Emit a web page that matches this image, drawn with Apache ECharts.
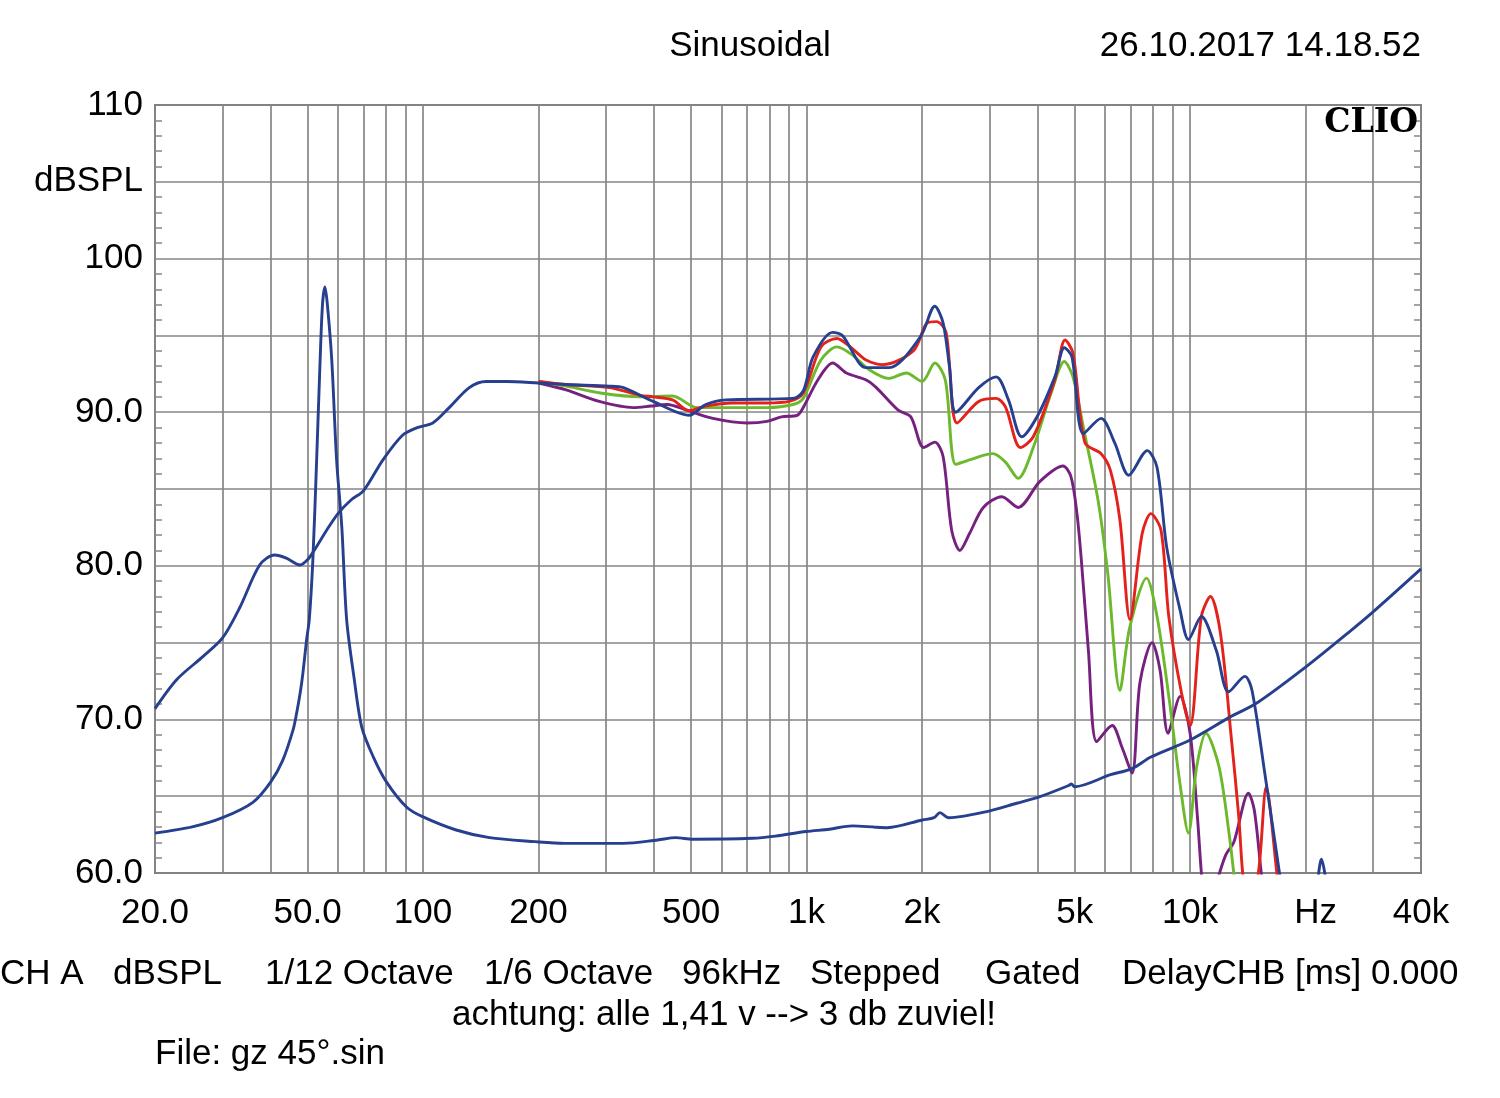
<!DOCTYPE html>
<html>
<head>
<meta charset="utf-8">
<script src="https://cdn.jsdelivr.net/npm/echarts@6/dist/echarts.min.js"></script>
<style>
html,body{margin:0;padding:0;background:#fff;}
#chart{width:1500px;height:1098px;}
</style>
</head>
<body>
<div id="chart"></div>
<script>
// ---------------- DATA ----------------
// Frequencies in Hz, levels in dBSPL
const gridFreqs = [20,30,40,50,60,70,80,90,100,200,300,400,500,600,700,800,900,1000,2000,3000,4000,5000,6000,7000,8000,9000,10000,20000,30000,40000];
const xLabelFreqs = [20,50,100,200,500,1000,2000,5000,10000,20000,40000];
const xLabelTexts = ['20.0','50.0','100','200','500','1k','2k','5k','10k','Hz','40k'];
const yLabelMap = {110:'110',105:'dBSPL',100:'100',90:'90.0',80:'80.0',70:'70.0',60:'60.0'};

// Blue curve, full range (0°)
const blueFreq = [20,22.8,26.7,30,33.3,37.5,41,44,47.8,50,52,56,60,65,70,78.6,88.4,96.6,106,117,132,146,165,200,236,306,333,398,494,546,617,924,981,1040,1170,1240,1430,1640,1980,2160,2270,2360,2450,2810,3120,3360,3640,3990,4440,4700,4920,5270,5860,6360,6920,7730,8200,8690,9420,9900,10700,11700,12600,13900,14500,15700,17100,18000,20500,21500,22000,22600,24000];
const blueVals = [70.7,72.6,74.1,75.3,77.3,80.05,80.7,80.5,80.05,80.4,81.0,82.3,83.4,84.3,84.9,86.9,88.5,89.0,89.3,90.3,91.6,92.0,92.0,91.9,91.8,91.7,91.6,90.7,89.8,90.5,90.8,90.9,91.4,93.6,95.2,95.0,92.9,92.9,94.9,96.9,95.8,92.9,90.0,91.6,92.3,90.8,88.4,89.7,92.3,94.2,93.6,88.6,89.6,88.0,85.9,87.5,86.4,81.2,77.1,75.2,76.7,74.5,71.8,72.8,71.9,66.3,60.0,56,56,59.5,60.9,59.5,54];

// Blue resonance / rising curve
const resFreq = [20,25,30,36,40,43,45.8,46.8,47.8,48.6,49.7,50.5,51.6,52.8,53.9,54.7,55.5,56.3,57.8,59.5,61.4,63.2,66,69.2,74.2,80.4,90.5,100,122,149,196,234,333,409,456,505,722,829,997,1146,1316,1513,1623,2004,2150,2227,2347,2955,3530,4060,4830,4900,5000,6200,7060,7900,10000,12600,15000,20000,26300,30000,40000];
const resVals = [62.6,63.0,63.6,64.6,65.9,67.3,69.3,70.4,71.7,73.0,75.2,76.5,80.4,87.0,93.4,97.1,98.15,97.0,93.4,86.9,82.5,76.5,72.8,69.5,67.55,65.9,64.3,63.65,62.8,62.3,62.04,61.93,61.93,62.15,62.3,62.2,62.26,62.4,62.7,62.85,63.07,62.98,62.95,63.45,63.6,63.93,63.6,64.0,64.54,64.97,65.7,65.8,65.62,66.4,66.8,67.55,68.66,70.1,71.1,73.4,75.8,77.0,79.8];

// Red curve
const redFreq = [200,236,306,368,398,447,494,546,641,788,900,980,1090,1200,1300,1430,1580,1900,2060,2180,2310,2470,2810,3120,3300,3610,3900,4440,4720,4950,5320,5860,6200,6560,6970,7500,7900,8400,8800,9500,10000,10700,11300,12000,12800,13400,13700,14200,15100,15800,16800,17500];
const redVals = [92.0,91.8,91.6,91.1,91.0,90.8,90.1,90.4,90.6,90.6,90.7,91.25,94.25,94.8,94.25,93.4,93.1,94.0,95.8,95.9,95.2,89.3,90.7,90.9,90.35,87.7,88.4,92.1,94.7,93.85,88.0,87.3,86.2,83.0,76.5,82.1,83.4,82.3,76.7,71.7,69.6,76.7,78.0,75.6,68.85,63.6,60.1,57,60.2,65.6,60.2,56];

// Green curve
const greenFreq = [200,236,290,368,447,518,570,788,922,980,1090,1200,1320,1460,1640,1820,2000,2160,2300,2450,2660,3060,3300,3560,3900,4340,4700,4950,5270,5760,6100,6560,6960,7700,8200,8800,9400,9900,10400,11000,11900,12700,13000,13500];
const greenVals = [92.0,91.7,91.25,91.0,91.05,90.3,90.3,90.3,90.5,90.9,93.4,94.25,93.7,92.75,92.2,92.55,92.0,93.2,92.1,86.6,86.9,87.3,86.75,85.7,87.7,91.25,93.3,92.3,89.0,84.2,79.5,71.9,76.0,79.2,76.7,71.5,65.9,62.6,66.9,69.1,66.9,62.15,60.0,57];

// Purple curve
const purpleFreq = [200,236,288,353,393,433,485,570,700,788,860,945,980,1070,1170,1270,1430,1520,1730,1870,2020,2160,2270,2390,2510,2660,2890,3230,3560,4060,4660,4890,5070,5200,5430,5710,6260,6640,7056,7400,7960,8350,8760,9420,10000,10450,10700,11000,11900,12400,13000,14200,14700,15300,16000];
const purpleVals = [91.9,91.45,90.7,90.3,90.4,90.5,90.15,89.6,89.3,89.4,89.7,89.8,90.3,92.1,93.2,92.55,92.1,91.6,90.15,89.7,87.7,88.05,87.1,82.3,81.0,82.1,83.8,84.5,83.8,85.5,86.5,85.8,83.4,80.5,74.5,68.55,69.6,68.2,66.5,72.4,75.0,73.2,69.1,71.5,69.1,63.65,60.0,57,59.9,61.2,62.0,65.2,64.1,60.2,56];

// ---------------- CHART ----------------
const FONT = '"Liberation Sans", Arial, Helvetica, sans-serif';
const BLUE = '#263f8e', RED = '#e3221c', GREEN = '#6cb92c', PURPLE = '#76217f';
const GRIDC = '#868686';
const lg = f => Math.log10(f);
const pts = (fs, vs) => fs.map((f, i) => [lg(f), vs[i]]);

function xLabel(v) {
  let best = 0, bd = 1e9;
  xLabelFreqs.forEach((f, i) => { const d = Math.abs(lg(f) - v); if (d < bd) { bd = d; best = i; } });
  if (bd >= 1e-6) return '';
  const t = xLabelTexts[best];
  return t === 'Hz' ? '{hz|Hz}' : t;
}

function mkSeries(name, fs, vs, color, z) {
  return {
    name, type: 'line', data: pts(fs, vs), showSymbol: false, symbol: 'none',
    smooth: 0.3, clip: true, z: z, animation: false,
    lineStyle: { color: color, width: 2.9 }
  };
}

const txt = (t, x, y, align) => ({ type: 'text', x: x, y: y, style: { text: t, font: '35px ' + FONT, fill: '#000', align: align, verticalAlign: 'middle' } });

const chart = echarts.init(document.getElementById('chart'), null, { renderer: 'canvas' });
chart.setOption({
  backgroundColor: '#ffffff',
  animation: false,
  textStyle: { fontFamily: FONT },
  grid: { left: 155, right: 79, top: 105, bottom: 225, show: true, borderColor: '#7a7a7a', borderWidth: 2, backgroundColor: 'transparent' },
  xAxis: {
    type: 'value', min: lg(20), max: lg(40000),
    axisLine: { show: false },
    axisTick: { show: false, customValues: gridFreqs.map(lg) },
    splitLine: { show: true, lineStyle: { color: GRIDC, width: 1.7 } },
    axisLabel: {
      customValues: xLabelFreqs.map(lg), formatter: xLabel, color: '#000', fontSize: 35, fontFamily: FONT, margin: 23,
      rich: { hz: { fontSize: 35, fontFamily: FONT, color: '#000', padding: [0, 0, 0, 20] } }
    }
  },
  yAxis: [{
    type: 'value', min: 60, max: 110, interval: 5,
    axisLine: { show: false },
    axisTick: { show: false, inside: true },
    minorTick: { show: true, splitNumber: 5, length: 7, lineStyle: { color: GRIDC, width: 1.5 } },
    splitLine: { show: true, lineStyle: { color: GRIDC, width: 1.7 } },
    axisLabel: { formatter: v => (yLabelMap[v] !== undefined ? yLabelMap[v] : ''), color: '#000', fontSize: 35, fontFamily: FONT, margin: 12 }
  }, {
    type: 'value', min: 60, max: 110, interval: 5, position: 'right',
    axisLine: { show: false }, axisTick: { show: false, inside: true },
    minorTick: { show: true, splitNumber: 5, length: 7, lineStyle: { color: GRIDC, width: 1.5 } },
    splitLine: { show: false }, axisLabel: { show: false }
  }],
  series: [
    mkSeries('purple', purpleFreq, purpleVals, PURPLE, 2),
    mkSeries('green', greenFreq, greenVals, GREEN, 3),
    mkSeries('red', redFreq, redVals, RED, 4),
    mkSeries('resonance', resFreq, resVals, BLUE, 5),
    mkSeries('blue', blueFreq, blueVals, BLUE, 6)
  ],
  graphic: [
    txt('Sinusoidal', 750, 46, 'center'),
    txt('26.10.2017 14.18.52', 1421, 46, 'right'),
    { type: 'text', x: 1418, y: 123, z: 100, style: { text: 'CLIO', font: 'bold 33px "DejaVu Serif", serif', fill: '#000', align: 'right', verticalAlign: 'middle' } },
    txt('CH A', 0, 974, 'left'),
    txt('dBSPL', 113, 974, 'left'),
    txt('1/12 Octave', 265, 974, 'left'),
    txt('1/6 Octave', 484, 974, 'left'),
    txt('96kHz', 682, 974, 'left'),
    txt('Stepped', 810, 974, 'left'),
    txt('Gated', 985, 974, 'left'),
    txt('DelayCHB [ms] 0.000', 1122, 974, 'left'),
    txt('achtung: alle 1,41 v --> 3 db zuviel!', 724, 1015, 'center'),
    txt('File: gz 45°.sin', 155, 1054, 'left')
  ]
});
</script>
</body>
</html>
